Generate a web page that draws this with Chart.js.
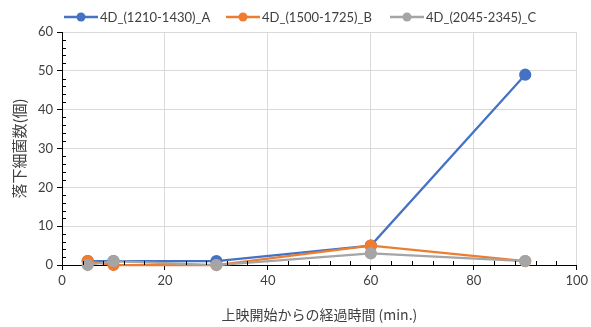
<!DOCTYPE html>
<html>
<head>
<meta charset="utf-8">
<script src="https://cdn.jsdelivr.net/npm/chart.js@4"></script>
<style>
  html, body { margin: 0; padding: 0; background: #fff; }
  #wrap { position: relative; width: 591px; height: 327px; }
  #legend { position: absolute; top: 7px; left: 0; width: 591px; height: 20px;
    font-family: Lato, "Liberation Sans", "Noto Sans CJK JP", sans-serif; font-size: 13px; color: #404040; }
  .item { position: absolute; top: 0; display: flex; align-items: center; height: 20px; }
  .item canvas { margin-right: 2px; }
</style>
</head>
<body>
<div id="wrap">
  <canvas id="c" width="591" height="327"></canvas>
  <div id="legend"></div>
</div>
<script>
// Elapsed minutes since the screening started
const minutes = [5, 10, 30, 60, 90];
// Falling bacteria counts per session
const seriesA = [1, 1, 1, 5, 49];
const seriesB = [1, 0, 0, 5, 1];
const seriesC = [0, 1, 0, 3, 1];
const seriesNames = ['4D_(1210-1430)_A', '4D_(1500-1725)_B', '4D_(2045-2345)_C'];
const seriesColors = ['#4472C4', '#ED7D31', '#A5A5A5'];
const xTicks = [0, 20, 40, 60, 80, 100];
const yTicks = [0, 10, 20, 30, 40, 50, 60];

const FONT = 'Lato, "Liberation Sans", "Noto Sans CJK JP", sans-serif';
const JP_FONT = '"Noto Sans CJK JP", sans-serif';

const toPoints = vals => minutes.map((m, i) => ({ x: m, y: vals[i] }));
const allSeries = [seriesA, seriesB, seriesC];

// HTML legend: line with a marker, then the series name
const legendX = [64, 226, 390];
const legend = document.getElementById('legend');
seriesNames.forEach((name, i) => {
  const item = document.createElement('div');
  item.className = 'item';
  item.style.left = legendX[i] + 'px';
  const sw = document.createElement('canvas');
  sw.width = 34; sw.height = 14;
  const g = sw.getContext('2d');
  g.strokeStyle = seriesColors[i]; g.lineWidth = 2.5;
  g.beginPath(); g.moveTo(0, 7); g.lineTo(34, 7); g.stroke();
  g.fillStyle = seriesColors[i];
  g.beginPath(); g.arc(17, 7, 4.5, 0, Math.PI * 2); g.fill();
  item.appendChild(sw);
  const t = document.createElement('span');
  t.textContent = name;
  item.appendChild(t);
  legend.appendChild(item);
});

// Minor tick marks drawn inward along both axes
const minorTicks = {
  id: 'minorTicks',
  afterDatasetsDraw(chart) {
    const { ctx, scales: { x, y } } = chart;
    ctx.save();
    ctx.strokeStyle = '#000';
    ctx.lineWidth = 1;
    ctx.beginPath();
    for (let v = 0; v <= 100; v += 4) {
      if (v % 20 === 0) continue;
      const px = Math.round(x.getPixelForValue(v)) + 0.5;
      const py = y.getPixelForValue(0);
      ctx.moveTo(px, py); ctx.lineTo(px, py - 4);
    }
    for (let v = 0; v <= 60; v += 2) {
      if (v % 10 === 0) continue;
      const py = Math.round(y.getPixelForValue(v)) + 0.5;
      const px = x.getPixelForValue(0);
      ctx.moveTo(px, py); ctx.lineTo(px + 4, py);
    }
    ctx.stroke();
    ctx.restore();
  }
};

new Chart(document.getElementById('c'), {
  type: 'line',
  data: {
    datasets: allSeries.map((vals, i) => ({
      label: seriesNames[i],
      data: toPoints(vals),
      borderColor: seriesColors[i],
      backgroundColor: seriesColors[i],
      borderWidth: 2.25,
      pointRadius: 5,
      pointHoverRadius: 5,
      tension: 0,
      clip: false,
      order: 2 - i
    }))
  },
  options: {
    responsive: false,
    animation: false,
    layout: { padding: { top: 32, right: 14, left: 0, bottom: 0 } },
    plugins: { legend: { display: false }, tooltip: { enabled: false } },
    scales: {
      x: {
        type: 'linear',
        min: 0, max: 100,
        afterBuildTicks: s => { s.ticks = xTicks.map(v => ({ value: v })); },
        afterFit: s => { s.height = 62; },
        grid: { color: '#d9d9d9', tickColor: '#000', tickLength: 5, drawTicks: true },
        border: { color: '#000', width: 1 },
        ticks: { font: { family: FONT, size: 13 }, color: '#404040', padding: 3 },
        title: { display: true, text: '上映開始からの経過時間 (min.)', font: { family: JP_FONT, size: 14 }, color: '#404040', padding: { top: 6 } }
      },
      y: {
        type: 'linear',
        min: 0, max: 60,
        afterBuildTicks: s => { s.ticks = yTicks.map(v => ({ value: v })); },
        afterFit: s => { s.width = 62; },
        grid: { color: '#d9d9d9', tickColor: '#000', tickLength: 5, drawTicks: true },
        border: { color: '#000', width: 1 },
        ticks: { font: { family: FONT, size: 13 }, color: '#404040', padding: 4 },
        title: { display: true, text: '落下細菌数(個)', font: { family: JP_FONT, size: 15 }, color: '#404040', padding: { top: 10, bottom: 4 } }
      }
    }
  },
  plugins: [minorTicks]
});
</script>
</body>
</html>
